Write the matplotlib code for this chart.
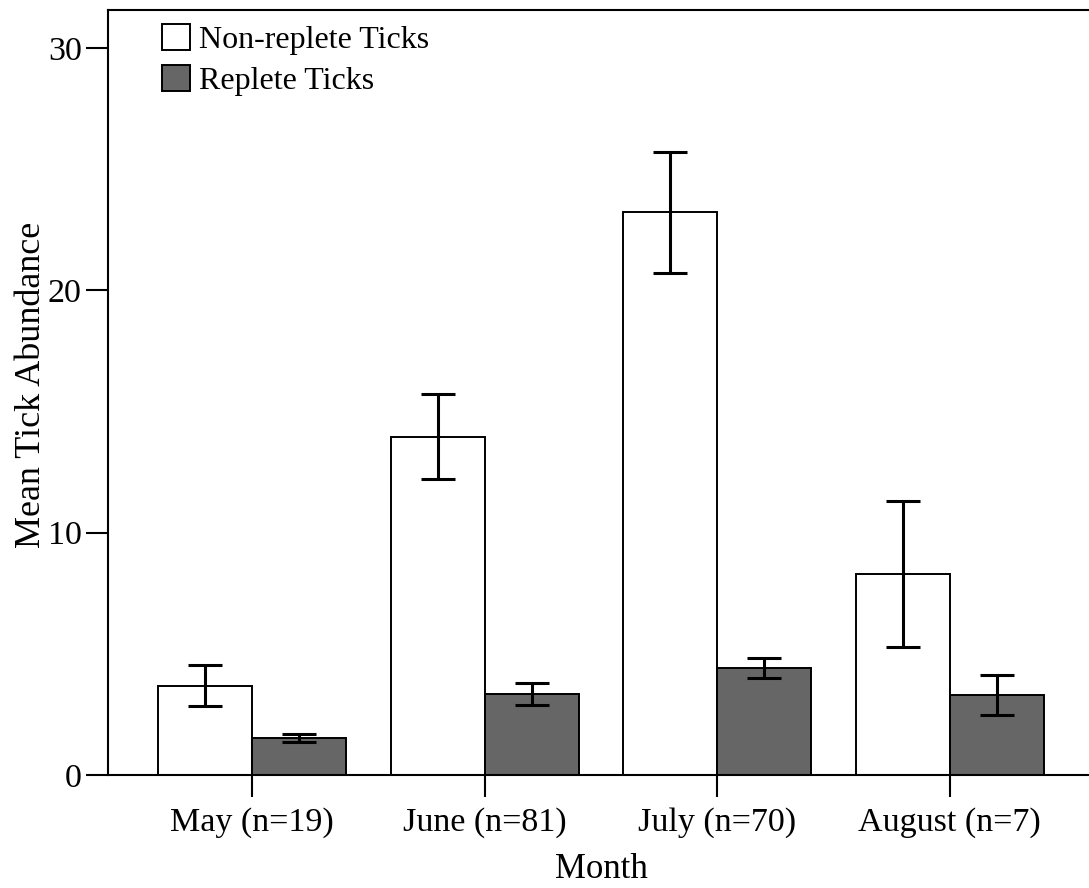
import matplotlib.pyplot as plt
import numpy as np

months = ['May (n=19)', 'June (n=81)', 'July (n=70)', 'August (n=7)']
non_replete = [3.68, 13.97, 23.22, 8.30]
non_replete_err = [0.84, 1.76, 2.48, 3.01]
replete = [1.53, 3.34, 4.42, 3.30]
replete_err = [0.17, 0.45, 0.41, 0.82]

plt.rcParams['font.family'] = ['Liberation Serif', 'DejaVu Serif']

fig = plt.figure(figsize=(10.89, 8.88), dpi=100)
ax = fig.add_axes([0.0992, 0.1273, 0.9054, 0.862])

x = np.arange(len(months))
width = 0.404

ax.bar(x - width / 2, non_replete, width, color='white', edgecolor='black',
       linewidth=1.4, label='Non-replete Ticks')
ax.bar(x + width / 2, replete, width, color='#666666', edgecolor='black',
       linewidth=1.4, label='Replete Ticks')
ax.errorbar(x - width / 2, non_replete, yerr=non_replete_err, fmt='none',
            ecolor='black', elinewidth=2.2, capsize=12, capthick=2.2)
ax.errorbar(x + width / 2, replete, yerr=replete_err, fmt='none',
            ecolor='black', elinewidth=2.2, capsize=12, capthick=2.2)

ax.set_xlim(-0.62, 3.62)
ax.set_ylim(0, 31.6)
ax.set_yticks([0, 10, 20, 30])
ax.set_xticks(x)
ax.set_xticklabels(months)

for s in ax.spines.values():
    s.set_linewidth(1.5)
ax.tick_params(axis='both', length=16, width=1.5, labelsize=24.5)
ax.tick_params(axis='x', pad=7)
ax.tick_params(axis='y', pad=3)

ax.set_xlabel('Month', fontsize=25, labelpad=11)
ax.set_ylabel('Mean Tick Abundance', fontsize=26)
ax.yaxis.set_label_coords(-0.061, 0.509)

ax.legend(loc='upper left', frameon=False, fontsize=23, handlelength=0.87,
          handleheight=0.87, handletextpad=0.28, labelspacing=0.32,
          borderaxespad=0.0, borderpad=0.3, bbox_to_anchor=(0.045, 0.9935))

fig.savefig('out.png', dpi=100)
